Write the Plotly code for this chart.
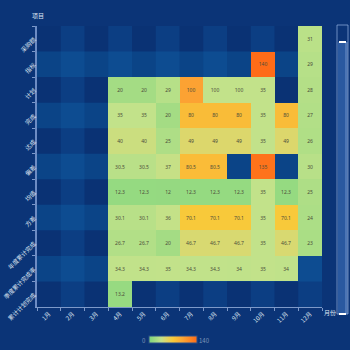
import plotly.graph_objects as go

months = ["1月", "2月", "3月", "4月", "5月", "6月", "7月", "8月", "9月", "10月", "11月", "12月"]
row_labels = ["采购额", "指标", "计划", "完成", "达成", "偏差", "均值", "方差",
              "年度累计完成", "季度累计完成率", "累计计划完成"]
N = None
values = [
    [N, N, N, N, N, N, N, N, N, N, N, 31],
    [N, N, N, N, N, N, N, N, N, 140, N, 29],
    [N, N, N, 20, 20, 29, 100, 35, 35, 35, N, 28],
    [N, N, N, 35, 35, 20, 80, 80, 80, 35, 80, 27],
    [N, N, N, 40, 40, 25, 49, 49, 49, 35, 49, 26],
    [N, N, N, 30.5, 30.5, 37, 80.5, 80.5, N, 135, N, 30],
    [N, N, N, 12.3, 12.3, 12, 12.3, 12.3, 12.3, 35, 12.3, 25],
    [N, N, N, 30.1, 30.1, 36, 70.1, 70.1, 70.1, 35, 70.1, 24],
    [N, N, N, 26.7, 26.7, 20, 46.7, 46.7, 46.7, 35, 46.7, 23],
    [N, N, N, 34.3, 34.3, 35, 34.3, 34.3, 34, 35, 34, N],
    [N, N, N, 13.2, N, N, N, N, N, N, N, N],
]
label_override = {(2, 7): "100", (2, 8): "100"}
vmin, vmax = 0, 140

def fmt(v):
    if v is None:
        return ""
    return ("%g" % v)

text = [[label_override.get((r, c), fmt(v)) for c, v in enumerate(row)] for r, row in enumerate(values)]

# pixel helpers for decorations
L, R, T, B = 37, 322, 26, 307
def px(x):
    return (x - L) / (R - L)
def py(y):
    return (B - y) / (B - T)

fig = go.Figure()
fig.add_trace(go.Heatmap(
    z=values, x=months, y=row_labels, text=text,
    texttemplate="%{text}",
    textfont=dict(size=5, color="#4d4d3a", family="Noto Sans"),
    zmin=vmin, zmax=vmax,
    colorscale=[[0, "#7dd57c"], [0.25, "#c2e28a"], [0.35, "#dcd76c"], [0.5, "#f8c93a"],
                [0.7, "#fca534"], [1, "#fe6c18"]],
    hoverongaps=False,
    colorbar=dict(orientation="h", lenmode="pixels", len=48, thickness=7,
                  x=px(173), xanchor="center", y=py(340), yanchor="middle",
                  showticklabels=False, ticks="", outlinewidth=1, outlinecolor="#2a4f8a",
                  xpad=0, ypad=0),
))

shapes = []
# split areas (alternating bands)
for i in range(len(row_labels)):
    if i % 2 == 1:
        shapes.append(dict(type="rect", xref="paper", yref="y", x0=0, x1=1,
                           y0=i - 0.5, y1=i + 0.5, fillcolor="#0b4487", line_width=0, layer="below"))
for j in range(len(months)):
    if j % 2 == 1:
        shapes.append(dict(type="rect", xref="x", yref="paper", x0=j - 0.5, x1=j + 0.5,
                           y0=0, y1=1, fillcolor="rgba(20,100,175,0.25)", line_width=0, layer="below"))
# slider decoration on right
shapes.append(dict(type="rect", xref="paper", yref="paper", x0=px(338), x1=px(347), y0=py(314), y1=py(42),
                   fillcolor="rgba(70,120,195,0.55)", line_width=0))
shapes.append(dict(type="rect", xref="paper", yref="paper", x0=px(345), x1=px(348), y0=py(314), y1=py(42),
                   fillcolor="rgba(140,170,220,0.35)", line_width=0))
shapes.append(dict(type="rect", xref="paper", yref="paper", x0=px(337), x1=px(348), y0=py(314), y1=py(25),
                   fillcolor="rgba(0,0,0,0)", line=dict(color="rgba(150,180,225,0.7)", width=1)))
for yy in (42, 314):
    shapes.append(dict(type="rect", xref="paper", yref="paper", x0=px(339), x1=px(346),
                       y0=py(yy + 1), y1=py(yy - 1), fillcolor="#ffffff", line_width=0))

annotations = [
    dict(text="项目", xref="paper", yref="paper", x=px(38), y=py(16), showarrow=False,
         font=dict(size=6, color="#dfe6f2", family="Noto Sans CJK SC"), xanchor="center", yanchor="middle"),
    dict(text="月份", xref="paper", yref="paper", x=px(330), y=py(312), showarrow=False,
         font=dict(size=6, color="#dfe6f2", family="Noto Sans CJK SC"), xanchor="center", yanchor="middle"),
    dict(text=str(vmin), xref="paper", yref="paper", x=px(144), y=py(340), showarrow=False,
         font=dict(size=6, color="#7f95b8"), xanchor="center", yanchor="middle"),
    dict(text=str(vmax), xref="paper", yref="paper", x=px(205), y=py(340), showarrow=False,
         font=dict(size=6, color="#7f95b8"), xanchor="center", yanchor="middle"),
]

axis_font = dict(size=6, color="#dfe6f2", family="Noto Sans CJK SC")
fig.update_layout(
    width=350, height=350,
    margin=dict(l=L, r=350 - R, t=T, b=350 - B, autoexpand=False),
    paper_bgcolor="#0b3477", plot_bgcolor="#0a3274",
    shapes=shapes, annotations=annotations,
    xaxis=dict(type="category", showgrid=False, zeroline=False, showline=True, linecolor="#7d99c9",
               linewidth=1, ticks="outside", ticklen=3, tickcolor="#7d99c9", tickson="boundaries",
               tickangle=-45, tickfont=axis_font, fixedrange=True, automargin=False),
    yaxis=dict(type="category", autorange="reversed", showgrid=False, zeroline=False, showline=True,
               linecolor="#6d8cc4", linewidth=1.5, ticks="outside", ticklen=3, tickcolor="#7d99c9",
               tickson="boundaries", tickangle=-45, tickfont=axis_font, fixedrange=True, automargin=False),
    font=dict(family="Noto Sans CJK SC"),
)

fig.write_html("out.html")
